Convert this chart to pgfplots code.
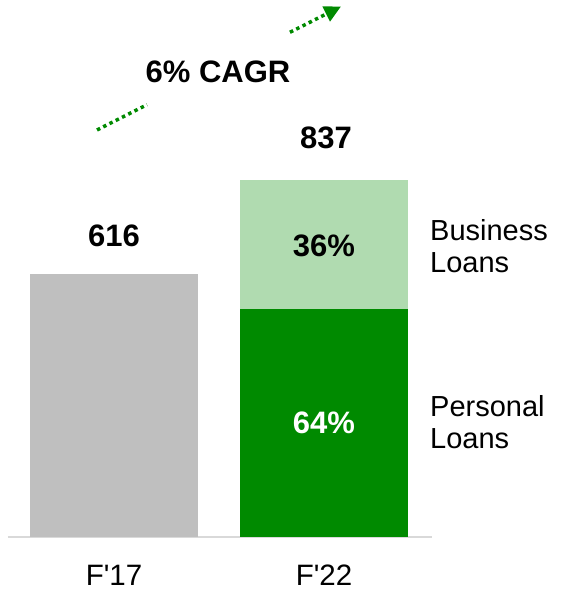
\documentclass[border=0pt]{standalone}
\usepackage{fontspec}
\setmainfont{Liberation Sans}[Ligatures=TeXOff]
\usepackage{pgfplots}
\pgfplotsset{compat=1.18}
\usetikzlibrary{arrows.meta}
\definecolor{dkgreen}{RGB}{0,138,0}
\definecolor{ltgreen}{RGB}{176,219,176}
\definecolor{barGrey}{RGB}{191,191,191}
\definecolor{axGrey}{RGB}{217,217,217}
\begin{document}
\begin{tikzpicture}[font=\fontsize{29}{32}\selectfont]
\begin{axis}[
 at={(0pt,0pt)}, anchor=south west, scale only axis,
 width=424pt, height=537pt,
 xmin=-0.505, xmax=1.514, ymin=0, ymax=1259,
 axis x line=bottom, axis y line=none,
 x axis line style={-, draw=axGrey, line width=1.5pt},
 xtick={0,1}, xticklabels={F'17,F'22},
 major tick length=0pt,
 xticklabel style={anchor=base, yshift=-48pt, font=\fontsize{29.5}{32}\selectfont},
 ytick=\empty,
 ybar stacked, bar width=168pt,
 clip=false,
]
\addplot[fill=barGrey, draw=none] coordinates {(0,616) (1,0)};
\addplot[fill=dkgreen, draw=none] coordinates {(0,0) (1,535.68)};
\addplot[fill=ltgreen, draw=none] coordinates {(0,0) (1,301.32)};
\end{axis}
\node[font=\bfseries\fontsize{31}{34}\selectfont] at (210pt,465pt) {6\% CAGR};
\node[font=\bfseries\fontsize{31}{34}\selectfont] at (106pt,301pt) {616};
\node[font=\bfseries\fontsize{31}{34}\selectfont] at (318pt,399pt) {837};
\node[font=\bfseries\fontsize{31}{34}\selectfont] at (316pt,291pt) {36\%};
\node[font=\bfseries\fontsize{31}{34}\selectfont, white] at (316pt,114pt) {64\%};
\node[anchor=west, align=left, inner sep=0pt] at (422pt,291pt) {Business\\Loans};
\node[anchor=west, align=left, inner sep=0pt] at (422pt,114.5pt) {Personal\\Loans};
\draw[dkgreen, line width=3.5pt, dash pattern=on 3.5pt off 3.5pt] (89pt,407pt) -- (139pt,432.3pt);
\draw[dkgreen, line width=3.5pt, dash pattern=on 3.5pt off 3.5pt, -{Triangle[length=16.6pt,width=16pt]}] (282pt,504.7pt) -- (333pt,530.5pt);
\pgfresetboundingbox
\useasboundingbox (-8pt,-54pt) rectangle (569pt,537pt);
\end{tikzpicture}
\end{document}
